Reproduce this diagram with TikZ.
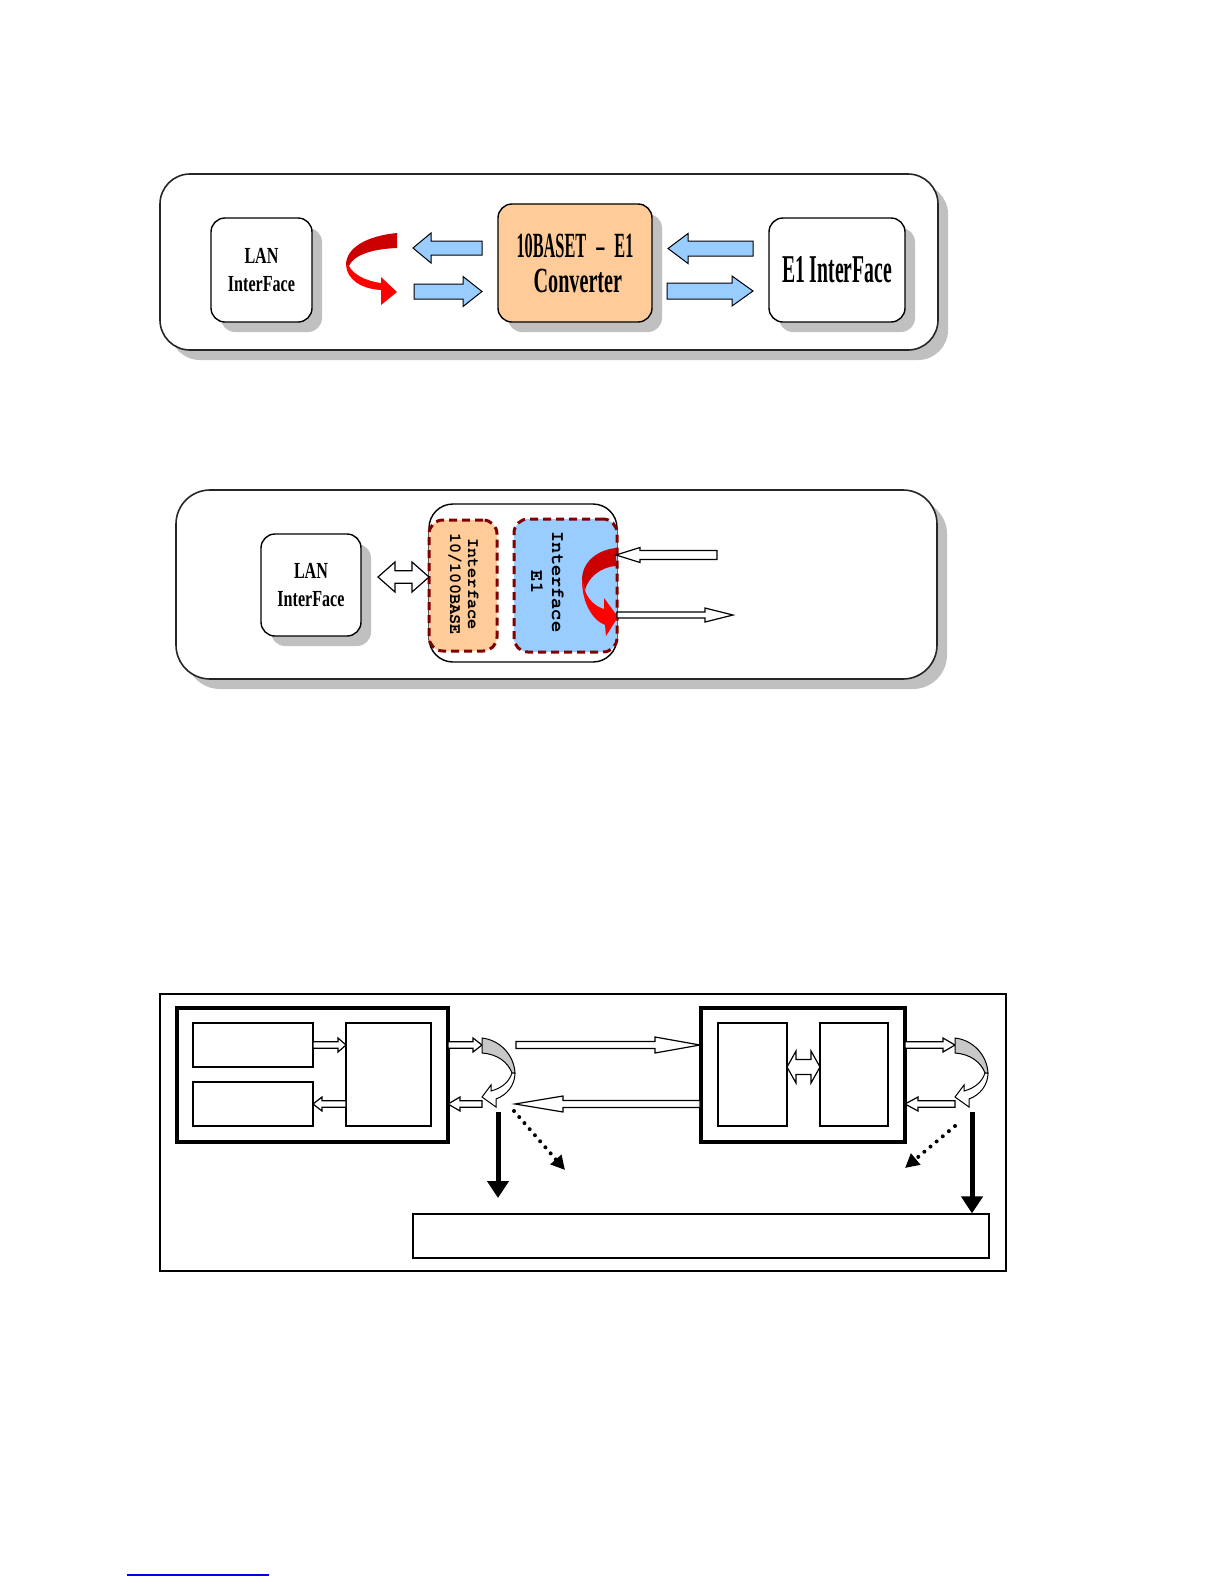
\documentclass[tikz,border=0pt]{standalone}
\usepackage{fontspec}
\setmainfont{Liberation Serif}
\newfontfamily\monof{TeX Gyre Cursor}
\usepackage{graphicx}
\usetikzlibrary{arrows.meta,shadows}
\definecolor{peach}{HTML}{FFCC99}
\definecolor{skyb}{HTML}{99CCFF}
\definecolor{darkr}{HTML}{800000}
\definecolor{shadowc}{HTML}{C0C0C0}
\definecolor{redd}{HTML}{CC0000}
\definecolor{redb}{HTML}{FF0000}
\definecolor{ribgray}{HTML}{C8C8C8}
\definecolor{linkblue}{HTML}{0000EE}
\newcommand\cnd[2]{\scalebox{#1}[1]{#2}}
% horizontal block arrow: style, x tail, x tip, y, shaft half, head half, head length
\newcommand\harrow[7]{%
 \pgfmathsetmacro\hbx{#3-((#3>#2)?1:(-1))*#7}%
 \draw[#1] (#2,#4-#5) -- (\hbx,#4-#5) -- (\hbx,#4-#6) -- (#3,#4) -- (\hbx,#4+#6) -- (\hbx,#4+#5) -- (#2,#4+#5) -- cycle;}
% double block arrow: style, x left, x right, y, shaft half, head half, head length
\newcommand\dharrow[7]{%
 \draw[#1] (#2,#4) -- (#2+#7,#4-#6) -- (#2+#7,#4-#5) -- (#3-#7,#4-#5) -- (#3-#7,#4-#6) -- (#3,#4) -- (#3-#7,#4+#6) -- (#3-#7,#4+#5) -- (#2+#7,#4+#5) -- (#2+#7,#4+#6) -- cycle;}
% box node: name, style, x1, y1, x2, y2, text
\newcommand\boxnode[7]{%
 \node[#2, inner sep=0pt, minimum width={(#5-#3)*0.5pt}, minimum height={(#6-#4)*0.5pt}] (#1) at ({(#3+#5)/2},{(#4+#6)/2}) {#7};}
\tikzset{
 shd/.style={drop shadow={shadow xshift=5pt, shadow yshift=-5pt, fill=shadowc, opacity=1}},
 panel/.style={draw=black!85, line width=0.8pt, fill=white, rounded corners=#1},
 wbox/.style={draw=black, line width=0.7pt, fill=white, rounded corners=7pt, align=center,
   font=\bfseries\fontsize{11.5}{14}\selectfont},
 dbox/.style={draw=darkr, line width=1.5pt, dash pattern=on 4pt off 2.5pt, rounded corners=7pt},
 rottext/.style={rotate=-90, align=center},
 bluearr/.style={draw=black, line width=0.5pt, fill=skyb},
 harr/.style={draw=black, line width=0.6pt, fill=white},
 thinbox/.style={draw=black, line width=0.6pt},
 thickbox/.style={draw=black, line width=2pt},
 blackarr/.style={line width=2.5pt, -{Triangle[length=8.5pt,width=10.5pt]}},
 dotarr/.style={line width=2pt, line cap=round, dash pattern=on 0pt off 4pt, -{Triangle[length=7pt,width=7pt]}},
 ribback/.style={draw=black, line width=0.5pt, fill=ribgray},
 ribfront/.style={draw=black, line width=0.5pt, fill=white}
}
\begin{document}
\begin{tikzpicture}[x=0.5pt, y=-0.5pt]
\useasboundingbox[fill=white] (0,0) rectangle (1225,1585);

% ================= top panel =================
\boxnode{toppanel}{panel=15pt, shd}{160}{174}{938}{350}{}
\boxnode{lan1}{wbox, shd}{211}{218}{312}{322}{\cnd{0.7}{LAN}\\\cnd{0.7}{InterFace}}
\boxnode{conv1}{wbox, shd, fill=peach, font=\bfseries\fontsize{17.7}{17.5}\selectfont}{498}{204}{652}{322}{\cnd{0.46}{10BASET\hspace{10.9pt}–\hspace{10.9pt}E1}\\\cnd{0.57}{\hspace*{5pt}Converter}}
\boxnode{e1box}{wbox, shd, font=\bfseries\fontsize{19.7}{20}\selectfont}{769}{218}{905}{322}{\cnd{0.5}{E1 InterFace}}

\harrow{bluearr}{482}{413}{248}{7}{15}{18}
\harrow{bluearr}{414}{482}{291.5}{7.5}{15}{19}
\harrow{bluearr}{753}{668}{248.5}{7.5}{15}{20}
\harrow{bluearr}{667}{753}{291}{8}{15}{21}

% red curved arrow (top)
\fill[redd] (397,233) .. controls (366,236) and (346,248) .. (346,265) -- (349,266)
  .. controls (353,256) and (370,249) .. (397,248) -- cycle;
\fill[redb] (346,265) .. controls (347,280) and (362,289) .. (381,290) -- (381,305) -- (397,292)
  -- (381,277) -- (381,283) .. controls (365,281) and (353,274) .. (349,266) -- cycle;

% ================= middle panel =================
\boxnode{midpanel}{panel=17pt, shd}{176}{490}{937}{679}{}
\boxnode{lan2}{wbox, shd}{261}{534}{361}{636}{\cnd{0.7}{LAN}\\\cnd{0.7}{InterFace}}
\boxnode{conv2}{draw=black, line width=0.7pt, fill=white, rounded corners=12pt}{429}{504}{617}{662}{}
\boxnode{ifl}{dbox, fill=peach}{429}{520}{497}{651}{}
\boxnode{ife}{dbox, fill=skyb}{514}{519}{617}{652}{}
\node[rottext, font=\monof\bfseries\fontsize{8.4}{9}\selectfont] (tifl) at (463.5,584) {Interface\\10/100BASE};
\node[rottext, font=\monof\bfseries\fontsize{9.3}{10.5}\selectfont] (tife) at (547.5,582) {Interface\\E1};

\dharrow{harr}{378}{429}{577}{6.3}{15}{17}

% red curved arrow (middle)
\fill[redd] (616,548) .. controls (597,550) and (582,562) .. (582,580) -- (585,590)
  .. controls (588,578) and (600,567) .. (616,566) -- cycle;
\fill[redb] (582,580) .. controls (582,602) and (592,620) .. (605,625) -- (606,636) -- (618,617)
  -- (604,598) -- (604,609) .. controls (594,606) and (587,598) .. (585,590) -- cycle;

\harrow{harr}{717}{616}{555}{4.5}{7.5}{24}
\harrow{harr}{617}{733}{615}{3}{7}{28}

% ================= bottom panel =================
\boxnode{bpanel}{draw=black, line width=1pt}{160}{994}{1006}{1271}{}
\boxnode{lbig}{thickbox}{177}{1008}{448}{1142}{}
\boxnode{ba}{thinbox}{193}{1023}{313}{1067}{}
\boxnode{bb}{thinbox}{193}{1082}{313}{1126}{}
\boxnode{bc}{thinbox}{346}{1023}{431}{1126}{}
\boxnode{rbig}{thickbox}{701}{1008}{905}{1142}{}
\boxnode{bd}{thinbox}{718}{1023}{787}{1126}{}
\boxnode{be}{thinbox}{820}{1023}{888}{1126}{}
\boxnode{bbot}{thinbox}{413}{1214}{989}{1258}{}

\harrow{harr}{313}{346}{1045}{3.3}{7}{8}
\harrow{harr}{346}{313}{1104}{3.3}{7}{9}
\harrow{harr}{448}{482}{1045}{3.3}{7}{9}
\harrow{harr}{482}{448}{1104}{3.3}{7}{12}
\harrow{harr}{516}{700}{1045}{3.5}{8}{45}
\harrow{harr}{700}{515}{1104}{3.5}{8}{48}
\dharrow{harr}{787}{820}{1067}{7.5}{16}{9}
\harrow{harr}{905}{955}{1045}{3.3}{7}{12}
\harrow{harr}{955}{905}{1104}{3.3}{7}{13}

% curved ribbons
\foreach \dx in {0,473}{
 \begin{scope}[xshift=\dx*0.5pt]
 \draw[ribback] (482,1038) .. controls (500,1040) and (514,1055) .. (515,1073) -- (512,1073)
   .. controls (508,1062) and (497,1054) .. (482,1053) -- cycle;
 \draw[ribfront] (515,1073) .. controls (515,1085) and (507,1095) .. (496,1099) -- (496,1107)
   -- (482,1097) -- (491,1085) -- (491,1091) .. controls (502,1088) and (509,1082) .. (512,1073) -- cycle;
 \end{scope}
}

% down arrows and dotted arrows
\coordinate (dl1) at (498,1112);
\coordinate (dl2) at (498,1198);
\coordinate (dr1) at (972,1112);
\draw[blackarr] (dl1) -- (dl2);
\draw[blackarr] (dr1) -- (dr1 |- bbot.north);
\coordinate (ol1) at (514,1111);
\coordinate (ol2) at (565,1170);
\coordinate (or1) at (955,1126);
\coordinate (or2) at (905,1168);
\draw[dotarr] (ol1) -- (ol2);
\draw[dotarr] (or1) -- (or2);

% link underline at page bottom
\coordinate (lk1) at (127,1575);
\coordinate (lk2) at (269,1575);
\draw[linkblue, line width=0.7pt] (lk1) -- (lk2);
\end{tikzpicture}
\end{document}
